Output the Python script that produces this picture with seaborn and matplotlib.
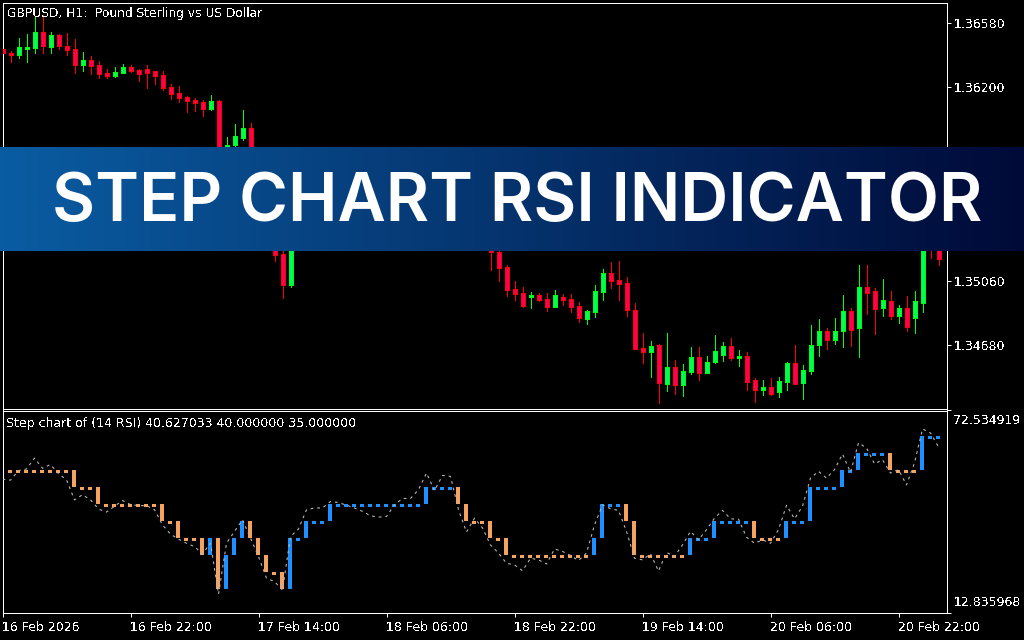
import numpy as np
import pandas as pd
import matplotlib
matplotlib.use("Agg")
import matplotlib.pyplot as plt
from matplotlib.transforms import ScaledTranslation
import seaborn as sns

# Prices in points (1.36424 -> 136424), one row per hourly candle.
# Candles 31-60 sit behind the banner, so those are only a rough guess.
opens = [136424, 136401, 136389, 136424, 136430, 136525, 136436, 136507, 136442, 136424,
         136330, 136360, 136330, 136283, 136265, 136283, 136318, 136301, 136307, 136295,
         136271, 136201, 136165, 136142, 136124, 136112, 136071, 136118, 135741, 135859,
         135900, 135959, 135712, 135594, 135388, 135217, 135034, 135323, 135441, 135564,
         135506, 135594, 135682, 135623, 135564, 135506, 135453, 135523, 135582, 135641,
         135712, 135665, 135723, 135782, 135682, 135582, 135653, 135506, 135405, 135299,
         135370, 135282, 135229, 135140, 135011, 134987, 134964, 134975, 134952, 134905,
         134964, 134952, 134911, 134834, 134875, 134993, 135105, 135064, 135046, 134887,
         134663, 134640, 134681, 134451, 134551, 134445, 134522, 134610, 134516, 134581,
         134622, 134675, 134604, 134616, 134475, 134416, 134434, 134404, 134463, 134575,
         134457, 134528, 134681, 134763, 134710, 134763, 134881, 134781, 135023, 134999,
         134899, 134940, 134852, 134899, 134840, 134928, 135388, 135299]
highs = [136424, 136413, 136489, 136513, 136613, 136625, 136525, 136513, 136519, 136483,
         136407, 136383, 136354, 136307, 136318, 136336, 136330, 136307, 136330, 136295,
         136295, 136218, 136206, 136148, 136136, 136124, 136153, 136124, 135906, 135983,
         136065, 135989, 135771, 135641, 135447, 135270, 135370, 135506, 135617, 135606,
         135653, 135723, 135712, 135665, 135594, 135547, 135570, 135641, 135700, 135747,
         135741, 135782, 135818, 135812, 135712, 135700, 135688, 135547, 135447, 135417,
         135394, 135323, 135270, 135152, 135058, 135023, 134993, 134987, 134987, 135005,
         134981, 134981, 134934, 134887, 135034, 135129, 135170, 135176, 135081, 134928,
         134752, 134705, 134687, 134752, 134593, 134569, 134669, 134669, 134616, 134740,
         134699, 134722, 134652, 134640, 134487, 134475, 134487, 134492, 134581, 134681,
         134563, 134799, 134834, 134781, 134840, 134975, 134899, 135152, 135152, 135017,
         135070, 134999, 134917, 134970, 134999, 135447, 135447, 135350]
lows = [136401, 136348, 136371, 136348, 136401, 136401, 136401, 136424, 136389, 136283,
        136295, 136277, 136254, 136254, 136259, 136283, 136289, 136236, 136195, 136218,
        136183, 136130, 136112, 136053, 136059, 136030, 136065, 135700, 135712, 135847,
        135888, 135665, 135547, 135347, 135176, 134958, 135023, 135299, 135405, 135453,
        135476, 135564, 135582, 135523, 135464, 135417, 135429, 135500, 135547, 135617,
        135629, 135641, 135700, 135653, 135559, 135535, 135464, 135370, 135270, 135276,
        135264, 135123, 135058, 134970, 134946, 134905, 134899, 134940, 134881, 134905,
        134917, 134875, 134816, 134805, 134846, 134946, 135017, 134946, 134852, 134657,
        134575, 134492, 134339, 134410, 134392, 134381, 134510, 134475, 134516, 134575,
        134587, 134593, 134557, 134416, 134345, 134386, 134386, 134375, 134416, 134451,
        134363, 134510, 134616, 134657, 134687, 134669, 134675, 134610, 134864, 134746,
        134852, 134834, 134811, 134763, 134752, 134875, 135193, 135152]
closes = [136401, 136389, 136436, 136436, 136525, 136442, 136507, 136442, 136419, 136330,
          136360, 136324, 136277, 136265, 136289, 136318, 136295, 136277, 136283, 136265,
          136195, 136159, 136136, 136118, 136106, 136071, 136118, 135741, 135859, 135912,
          135959, 135712, 135594, 135388, 135211, 135034, 135329, 135441, 135564, 135506,
          135606, 135682, 135623, 135564, 135500, 135453, 135535, 135594, 135653, 135712,
          135665, 135741, 135782, 135682, 135594, 135653, 135506, 135405, 135299, 135370,
          135282, 135229, 135135, 135005, 134981, 134911, 134975, 134946, 134905, 134975,
          134946, 134905, 134840, 134881, 134999, 135105, 135058, 135040, 134887, 134657,
          134640, 134675, 134457, 134551, 134445, 134528, 134610, 134516, 134581, 134646,
          134675, 134604, 134616, 134463, 134416, 134434, 134392, 134469, 134575, 134451,
          134534, 134681, 134763, 134710, 134763, 134881, 134769, 135023, 134987, 134893,
          134946, 134852, 134899, 134787, 134940, 135388, 135299, 135188]

# RSI step levels, one per candle
step_levels = [55, 55, 55, 55, 55, 55, 55, 55, 55, 50, 50, 50, 45, 45, 45, 45, 45, 45, 45, 45,
               40, 40, 35, 35, 35, 30, 35, 20, 30, 35, 40, 35, 30, 25, 25, 20, 35, 35, 40, 40,
               40, 45, 45, 45, 45, 45, 45, 45, 45, 45, 45, 45, 45, 50, 50, 50, 50, 45, 40, 40,
               40, 35, 35, 30, 30, 30, 30, 30, 30, 30, 30, 30, 30, 30, 35, 45, 45, 45, 40, 30,
               30, 30, 30, 30, 30, 30, 35, 35, 35, 40, 40, 40, 40, 40, 35, 35, 35, 35, 40, 40,
               40, 50, 50, 50, 50, 55, 55, 60, 60, 60, 60, 55, 55, 55, 55, 65, 65, 65]

rsi_values = [52.3, 52.0, 54.8, 55.3, 58.5, 55.5, 56.6, 53.9, 52.1, 46.2,
              47.7, 46.2, 43.5, 42.6, 44.3, 46.0, 44.8, 44.5, 44.5, 43.3,
              38.8, 36.1, 34.6, 33.4, 32.4, 30.3, 33.4, 18.4, 33.4, 36.9,
              40.3, 34.9, 29.5, 23.1, 22.1, 19.6, 35.4, 37.6, 43.3, 43.8,
              43.8, 45.7, 45.4, 44.6, 43.8, 42.8, 41.5, 41.1, 41.3, 44.7,
              46.6, 46.6, 49.2, 54.1, 48.9, 53.4, 53.1, 43.3, 36.7, 40.8,
              37.9, 32.9, 30.5, 27.5, 27.0, 25.3, 29.0, 28.5, 27.3, 31.7,
              31.0, 29.8, 28.3, 30.5, 38.8, 44.7, 43.6, 43.1, 36.9, 29.0,
              28.5, 30.3, 25.2, 30.7, 29.5, 32.9, 36.9, 34.4, 37.4, 40.8,
              43.1, 40.6, 40.5, 35.2, 33.4, 34.4, 33.4, 37.4, 44.6, 40.6,
              44.3, 52.6, 54.6, 52.6, 55.1, 59.7, 54.3, 63.0, 61.5, 56.8,
              58.0, 54.1, 55.1, 50.6, 57.1, 67.1, 65.9, 61.8]

# 1.35440 is also on the axis but the banner covers it completely, so no label for it
price_ticks = [1.36580, 1.36200, 1.35820, 1.35060, 1.34680]
rsi_ticks = [12.835968, 72.534919]
time_ticks = [0, 16, 32, 48, 64, 80, 96, 112]
time_labels = ["16 Feb 2026", "16 Feb 22:00", "17 Feb 14:00", "18 Feb 06:00",
               "18 Feb 22:00", "19 Feb 14:00", "20 Feb 06:00", "20 Feb 22:00"]

W, H = 1024, 640
GREEN_EDGE, GREEN_FILL = "#00ff00", "#00ff55"
RED_EDGE, RED_FILL = "#ff0000", "#ff0055"
STEP_DOWN, STEP_UP = "#f4a460", "#1e90ff"
PX = 0.72  # one pixel in points at dpi 100
SMALL = 9.0

sns.set_theme(style="dark", rc={
    "figure.facecolor": "black", "axes.facecolor": "black", "savefig.facecolor": "black",
    "axes.edgecolor": "white", "axes.linewidth": PX,
    "xtick.color": "white", "ytick.color": "white", "text.color": "white",
    "xtick.bottom": True, "ytick.right": True, "ytick.left": False,
})
plt.rcParams["font.family"] = ["DejaVu Sans"]
plt.rcParams["text.antialiased"] = False

df = pd.DataFrame({"bar": np.arange(len(opens)), "open": opens, "high": highs,
                   "low": lows, "close": closes, "level": step_levels, "rsi": rsi_values})
for col in ["open", "high", "low", "close"]:
    df[col] = df[col] / 1e5

fig = plt.figure(figsize=(W / 100, H / 100), dpi=100)


def add_panel(x0, y0, x1, y1):
    # pixel box, y counted from the top like in the screenshot
    return fig.add_axes([x0 / W, 1 - y1 / H, (x1 - x0) / W, (y1 - y0) / H])


ax_price = add_panel(2.5, 2.5, 946.5, 408.5)
ax_rsi = add_panel(2.5, 410.5, 946.5, 613)

# Candles
up = df["close"] >= df["open"]
ax_price.vlines(df["bar"], df["low"], df["high"], colors=np.where(up, GREEN_EDGE, RED_EDGE),
                linewidth=PX, antialiased=False, zorder=2)
ax_price.bar(df["bar"], (df["close"] - df["open"]).abs(), bottom=df[["open", "close"]].min(axis=1),
             width=0.5, color=np.where(up, GREEN_FILL, RED_FILL),
             edgecolor=np.where(up, GREEN_EDGE, RED_EDGE), linewidth=PX, antialiased=False, zorder=3)

ax_price.set_xlim(0, 118)
ax_price.set_ylim(1.34307, 1.36698)
ax_price.set_xticks([])
ax_price.yaxis.tick_right()
ax_price.set_yticks(price_ticks)
ax_price.set_yticklabels([f"{p:.5f}" for p in price_ticks], fontsize=SMALL)
ax_price.tick_params(axis="y", length=2.9, width=PX, pad=2)
ax_price.grid(False)
fig.text(7 / W, 1 - 13.5 / H, "GBPUSD, H1:  Pound Sterling vs US Dollar", fontsize=8.85,
         va="center", ha="left")

# Step histogram, the colour holds until the level moves the other way
prev_level = df["level"].shift(1).fillna(df["level"])
colors = []
current = STEP_DOWN
for a, b in zip(prev_level, df["level"]):
    if b > a:
        current = STEP_UP
    elif b < a:
        current = STEP_DOWN
    colors.append(current)

bottoms = np.minimum(prev_level, df["level"]).astype(float)
heights = (df["level"] - prev_level).abs().astype(float)
flat = heights == 0
# flat bars show as a short dash hanging just under the level
bottoms[flat] -= 0.9
heights[flat] = 0.9
ax_rsi.bar(df["bar"] - 0.0625, heights, bottom=bottoms, width=0.5, color=colors, linewidth=0,
           antialiased=False, zorder=2)

sns.lineplot(data=df, x="bar", y="rsi", ax=ax_rsi, color="#b4b4b4", linewidth=0.8,
             linestyle=(0, (2.5, 3.5)), errorbar=None, zorder=3)

ax_rsi.set_xlim(0, 118)
ax_rsi.set_ylim(rsi_ticks[0], rsi_ticks[1])
ax_rsi.set_xlabel("")
ax_rsi.set_ylabel("")
ax_rsi.grid(False)
ax_rsi.yaxis.tick_right()
ax_rsi.set_yticks(rsi_ticks)
ax_rsi.set_yticklabels([f"{v:.6f}" for v in rsi_ticks], fontsize=SMALL)
ax_rsi.tick_params(axis="y", length=2.9, width=PX, pad=2)
labels = ax_rsi.get_yticklabels()
labels[0].set_va("bottom")
labels[0].set_transform(labels[0].get_transform() + ScaledTranslation(0, 3.5 / 100, fig.dpi_scale_trans))
labels[1].set_va("top")
labels[1].set_transform(labels[1].get_transform() + ScaledTranslation(0, -3.5 / 100, fig.dpi_scale_trans))

ax_rsi.set_xticks(time_ticks)
ax_rsi.set_xticklabels(time_labels, fontsize=SMALL, ha="left")
ax_rsi.tick_params(axis="x", length=2.9, width=PX, pad=3)
fig.text(6 / W, 1 - 423 / H, "Step chart of (14 RSI) 40.627033 40.000000 35.000000",
         fontsize=9.0, va="center", ha="left")

# Banner across the upper panel
ax_banner = fig.add_axes([0, 1 - 251.5 / H, 1, 104.5 / H], zorder=10)
left_rgb = np.array([10, 92, 162]) / 255
right_rgb = np.array([0, 10, 56]) / 255
ramp = np.linspace(0, 1, 512)[None, :, None]
ax_banner.imshow(left_rgb + (right_rgb - left_rgb) * ramp, aspect="auto")
ax_banner.axis("off")
fig.text(52 / W, 1 - 196 / H, "STEP CHART RSI INDICATOR", fontsize=47.8, family="Inter",
         weight="semibold", color="white", va="center_baseline", ha="left", zorder=11,
         antialiased=True)

fig.savefig("out.png", dpi=100)
